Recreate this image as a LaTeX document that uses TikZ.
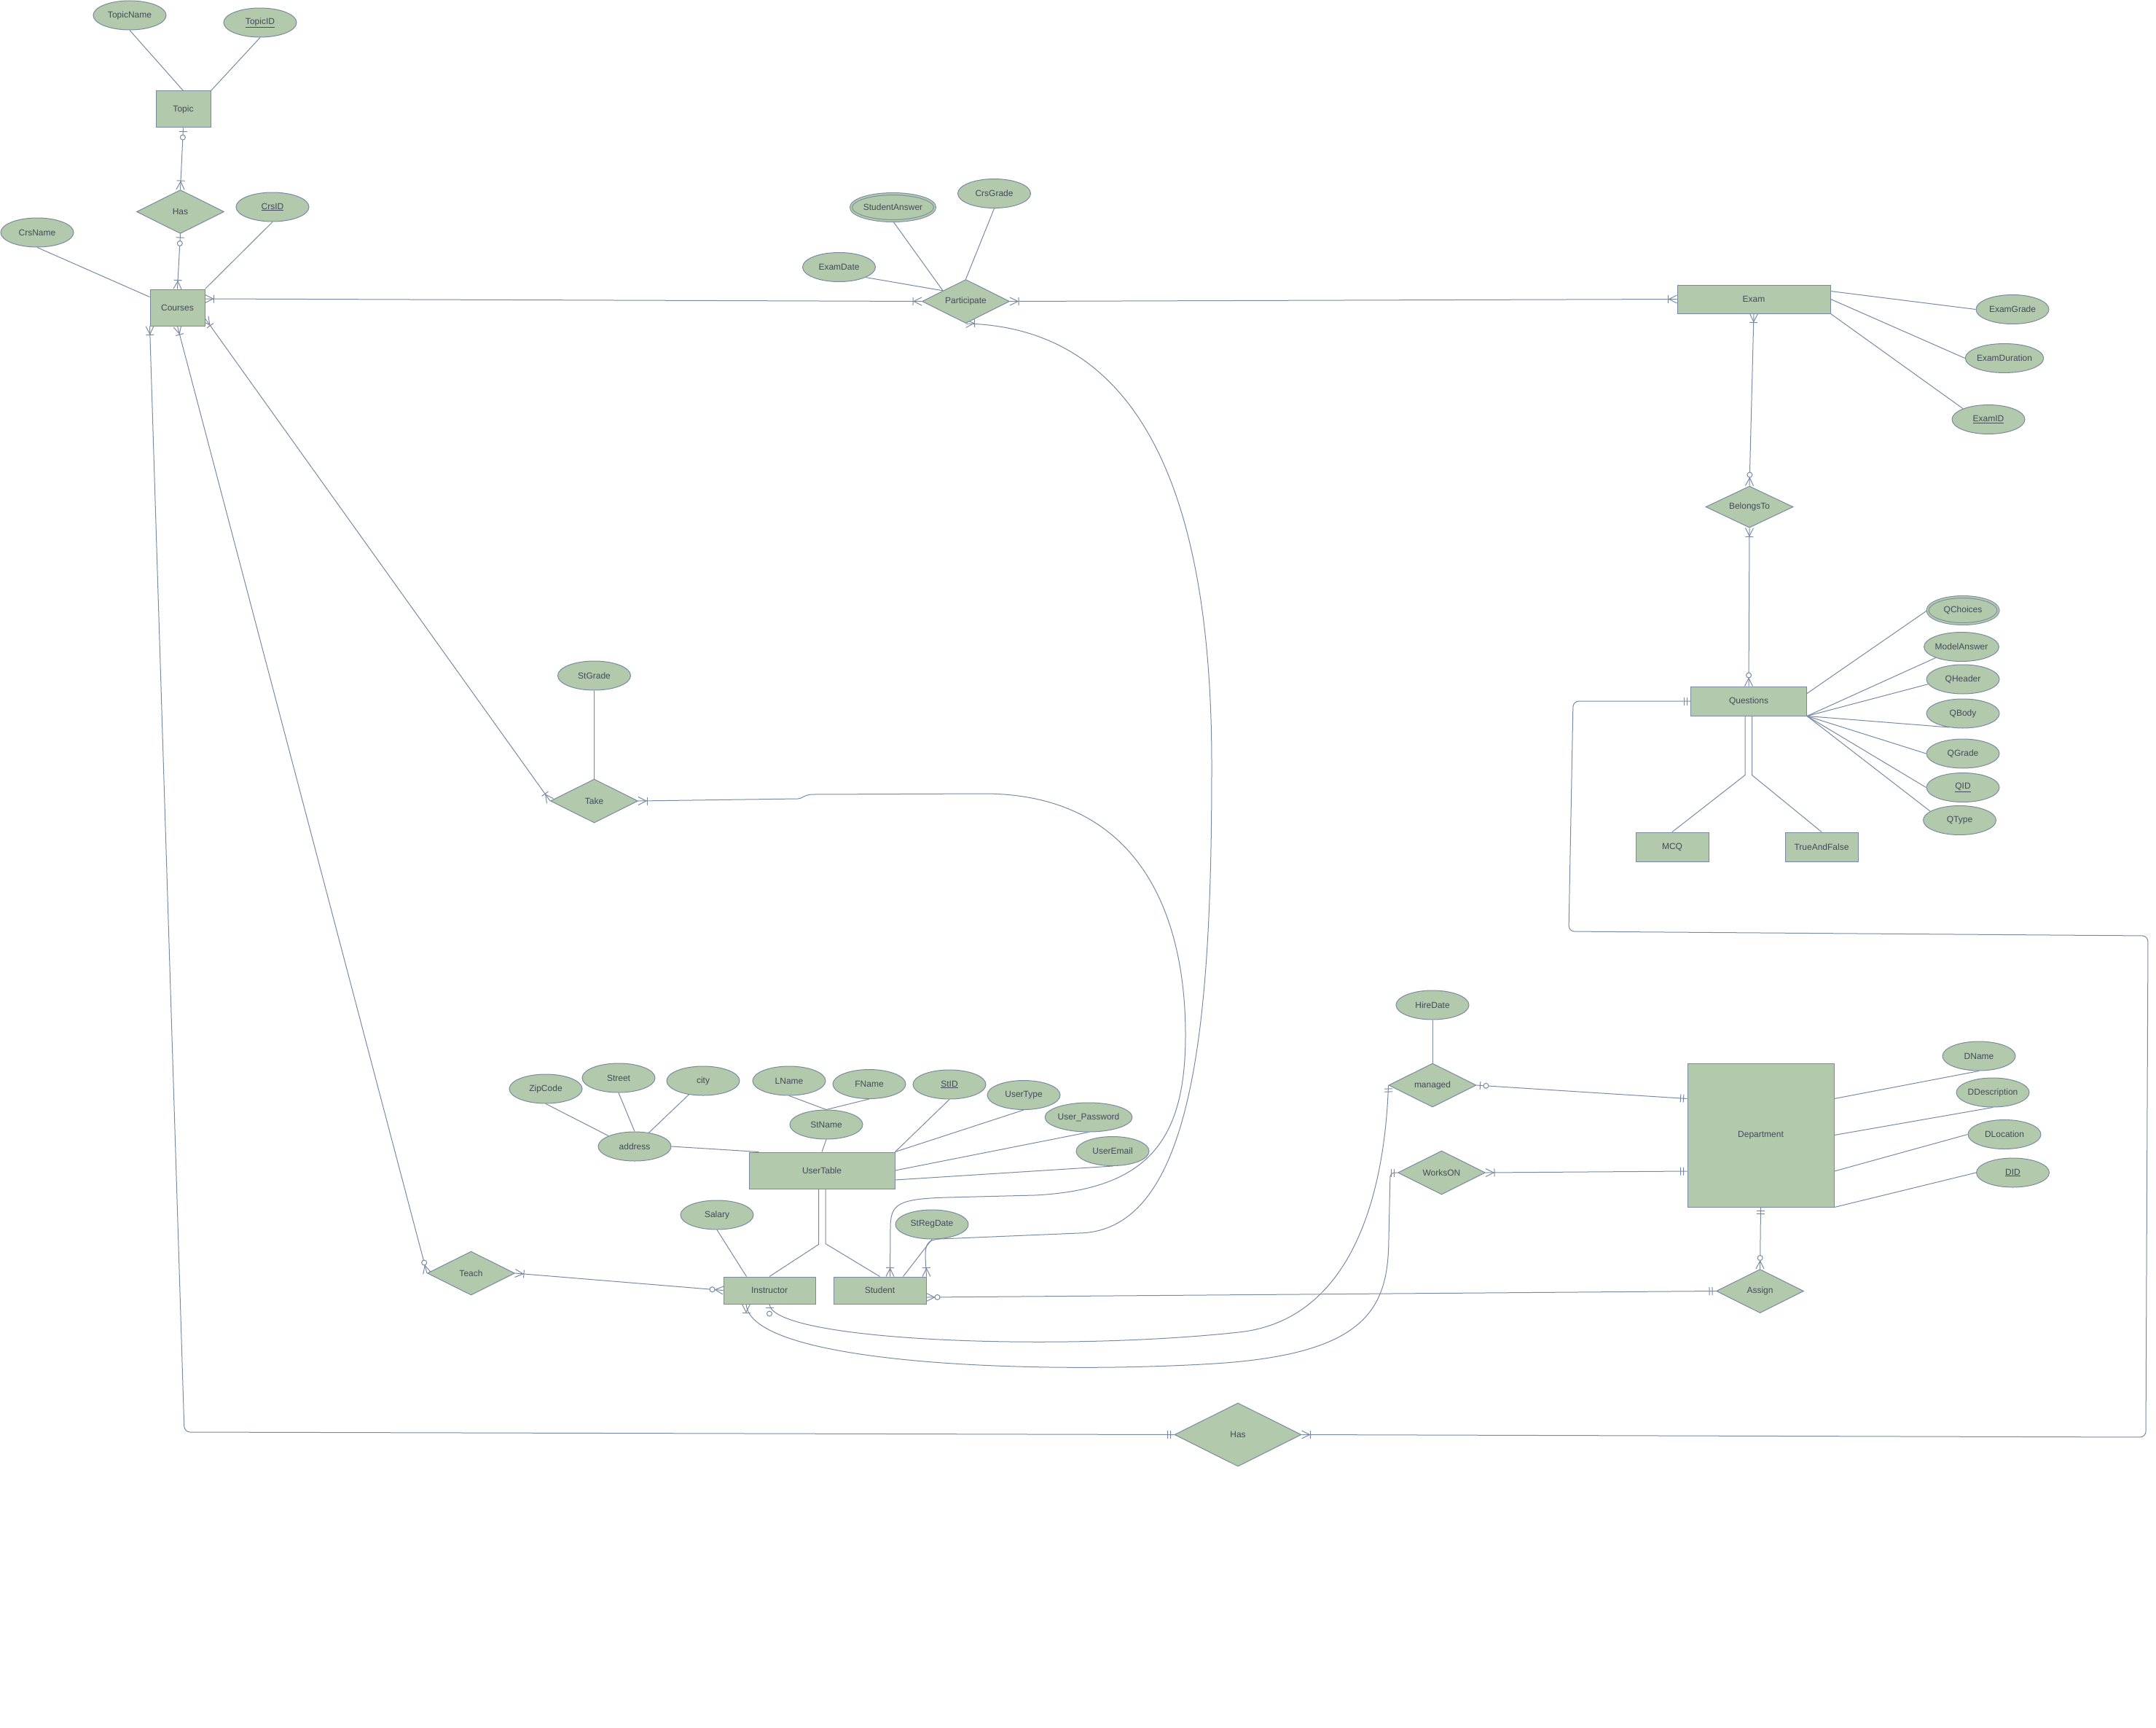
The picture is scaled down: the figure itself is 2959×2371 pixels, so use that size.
\documentclass[tikz,border=0pt]{standalone}
\usepackage{fontspec}
\setmainfont{Liberation Sans}
\usetikzlibrary{shapes.geometric,calc}
\definecolor{erfill}{HTML}{B2C9AB}
\definecolor{erline}{HTML}{788AA3}
\definecolor{ertext}{HTML}{46495D}
\pgfdeclarelayer{bg}
\pgfdeclarelayer{edges}
\pgfsetlayers{bg,edges,main}

% crow's-foot notation marks: #1 = end point on the shape, #2 = a point along the line
\newcommand\erbar[3]{\draw ($(#1)!#3!(#2)!5.5pt!90:(#2)$) -- ($(#1)!#3!(#2)!5.5pt!-90:(#2)$);}
\newcommand\ercrow[2]{\draw ($(#1)!5.5pt!90:(#2)$) -- ($(#1)!11pt!(#2)$) -- ($(#1)!5.5pt!-90:(#2)$);}
\newcommand\ercirc[3]{\draw[fill=white] ($(#1)!#3!(#2)$) circle[radius=3.5pt];}
\newcommand\ermany[2]{\ercrow{#1}{#2}\erbar{#1}{#2}{12pt}}
\newcommand\erzmany[2]{\ercrow{#1}{#2}\ercirc{#1}{#2}{15pt}}
\newcommand\erzone[2]{\erbar{#1}{#2}{5pt}\ercirc{#1}{#2}{13pt}}
\newcommand\erone[2]{\erbar{#1}{#2}{5pt}\erbar{#1}{#2}{9pt}}

\tikzset{
  base/.style={draw=erline, fill=erfill, line width=1pt, inner sep=0pt, text=ertext},
  ent/.style={base, rectangle},
  attr/.style={base, ellipse, minimum width=100pt, minimum height=40pt},
  mattr/.style={attr, double=erfill, double distance=2pt, minimum width=97pt, minimum height=37pt},
  rel/.style={base, diamond, aspect=2, minimum width=120pt, minimum height=60pt},
  link/.style={draw=erline, line width=1pt},
}

\begin{document}
\begin{tikzpicture}[x=1pt, y=-1pt, font=\fontsize{12}{14}\selectfont]
\begin{pgfonlayer}{bg}
  \fill[white] (0,0) rectangle (2959,2371);
\end{pgfonlayer}
\useasboundingbox (0,0) rectangle (2959,2371);

% ---------- entities ----------
\node[ent, minimum width=75pt, minimum height=50pt] (Topic) at (251.5,150) {Topic};
\node[ent, minimum width=75pt, minimum height=50pt] (Courses) at (243.5,422) {Courses};
\node[ent, minimum width=210pt, minimum height=39pt] (Exam) at (2407,410.5) {Exam};
\node[ent, minimum width=159pt, minimum height=40pt] (Questions) at (2400,962) {Questions};
\node[ent, minimum width=100pt, minimum height=40pt] (MCQ) at (2295,1162) {MCQ};
\node[ent, minimum width=100pt, minimum height=40pt] (TF) at (2500,1162) {TrueAndFalse};
\node[ent, minimum width=200pt, minimum height=50pt] (UT) at (1128,1606) {UserTable};
\node[ent, minimum width=126pt, minimum height=37pt] (Instructor) at (1056,1770.5) {Instructor};
\node[ent, minimum width=127pt, minimum height=37pt] (Student) at (1207.5,1770.5) {Student};
\node[ent, minimum width=201pt, minimum height=197pt] (Dept) at (2416.5,1557.5) {Department};

% ---------- relationships ----------
\node[rel] (Has) at (247.5,290.5) {Has};
\node[rel] (Part) at (1325.5,413.5) {Participate};
\node[rel, minimum height=57pt] (BelongsTo) at (2401,695.5) {BelongsTo};
\node[rel] (Take) at (815.5,1099) {Take};
\node[rel] (Teach) at (646.5,1747) {Teach};
\node[rel] (managed) at (1966,1489) {managed};
\node[rel] (WorksON) at (1978.5,1609) {WorksON};
\node[rel] (Assign) at (2415.5,1771.5) {Assign};
\node[rel, minimum width=174pt, minimum height=87pt] (HasB) at (1699,1968.5) {Has};

% ---------- attributes ----------
\node[attr] (TopicName) at (178,21) {TopicName};
\node[attr] (TopicID) at (357,31) {\underline{TopicID}};
\node[attr] (CrsID) at (374,284) {\underline{CrsID}};
\node[attr] (CrsName) at (51,319) {CrsName};
\node[mattr] (StudentAnswer) at (1225.5,284.5) {StudentAnswer};
\node[attr] (CrsGrade) at (1364.5,265.5) {CrsGrade};
\node[attr] (ExamDate) at (1151.5,366.5) {ExamDate};
\node[attr] (ExamGrade) at (2762,424.5) {ExamGrade};
\node[attr] (ExamDuration) at (2751,491.5) {ExamDuration};
\node[attr] (ExamID) at (2729,575.5) {\underline{ExamID}};
\node[mattr] (QChoices) at (2694,837.5) {QChoices};
\node[attr] (ModelAnswer) at (2692,887.5) {ModelAnswer};
\node[attr] (QHeader) at (2694,932) {QHeader};
\node[attr] (QBody) at (2694,979) {QBody};
\node[attr] (QGrade) at (2694,1034) {QGrade};
\node[attr] (QID) at (2694,1080.5) {\underline{QID}};
\node[attr] (QType) at (2689.5,1125.5) {QType};
\node[attr] (StGrade) at (815.5,927) {StGrade};
\node[attr] (ZipCode) at (749,1494) {ZipCode};
\node[attr] (Street) at (849,1479) {Street};
\node[attr] (city) at (965,1483) {city};
\node[attr] (address) at (871,1573) {address};
\node[attr] (LName) at (1083,1483) {LName};
\node[attr] (FName) at (1193,1487.5) {FName};
\node[attr] (StName) at (1134,1543) {StName};
\node[attr] (StID) at (1303,1488) {\underline{StID}};
\node[attr] (UserType) at (1405,1502.5) {UserType};
\node[attr] (UserPassword) at (1494,1533) {User\_Password};
\node[attr] (UserEmail) at (1527,1579.5) {UserEmail};
\node[attr] (StRegDate) at (1279,1680) {StRegDate};
\node[attr] (Salary) at (984,1667) {Salary};
\node[attr] (HireDate) at (1966,1379) {HireDate};
\node[attr] (DName) at (2716,1449) {DName};
\node[attr] (DDescription) at (2735,1499) {DDescription};
\node[attr] (DLocation) at (2751,1556.5) {DLocation};
\node[attr] (DID) at (2762.5,1609) {\underline{DID}};

% ---------- helper points on shape borders ----------
\coordinate (c3) at ($(Courses.east)+(0,-12)$);
\coordinate (c5) at ($(Courses.east)+(0,15)$);
\coordinate (c14) at ($(Student.east)+(0,9.5)$);
\coordinate (c15) at ($(Dept.north west)+(0,49)$);
\coordinate (c16) at ($(Dept.west)+(0,49.5)$);
\coordinate (s12) at ($(Student.north west)+(78,0)$);
\coordinate (c19) at ($(Instructor.south)+(-32,0)$);

\begin{pgfonlayer}{edges}
\begin{scope}[link]
% attribute links
\draw (TopicName.south) -- (Topic.north);
\draw (TopicID.south) -- (Topic.north east);
\draw (CrsName.south) -- ($(Courses.north west)+(0,11)$);
\draw (CrsID.south) -- (Courses.north east);
\draw (ExamDate.-21) -- (Part.155);
\draw (StudentAnswer.south) -- (Part.155);
\draw (CrsGrade.south) -- (Part.north);
\draw ($(Exam.north east)+(0,9)$) -- (ExamGrade.west);
\draw (Exam.east) -- (ExamDuration.west);
\draw (Exam.south east) -- (ExamID.157);
\draw ($(Questions.north east)+(0,10)$) -- (QChoices.west);
\draw (Questions.south east) -- (ModelAnswer.203);
\draw (Questions.south east) -- (QHeader.188);
\draw (Questions.south east) -- (QBody.225);
\draw (Questions.south east) -- (QGrade.west);
\draw (Questions.south east) -- (QID.west);
\draw (Questions.south east) -- (QType.163);
\draw (StGrade.south) -- (Take.north);
\draw (ZipCode.south) -- (address.158);
\draw (Street.south) -- (address.north);
\draw (city.224) -- (address.44);
\draw (address.east) -- ($(UT.north west)+(14,0)$);
\draw (LName.south) -- (StName.north);
\draw (FName.south) -- (StName.north);
\draw (StName.south) -- (UT.north);
\draw (StID.south) -- (UT.north east);
\draw (UserType.south) -- (UT.north east);
\draw (UserPassword.south) -- (UT.east);
\draw (UserEmail.south) -- ($(UT.east)+(0,13)$);
\draw (Salary.south) -- ($(Instructor.north west)+(32,0)$);
\draw (StRegDate.south) -- ($(Student.north east)+(-32,0)$);
\draw (HireDate.south) -- (managed.north);
\draw (DName.south) -- (c15 -| Dept.east);
\draw (DDescription.south) -- (Dept.east);
\draw (DLocation.west) -- (c16 -| Dept.east);
\draw (DID.west) -- (Dept.south east);

% specialisations
\draw ($(Questions.south)+(-5,0)$) -- ++(0,81) -- (MCQ.north);
\draw ($(Questions.south)+(4.5,0)$) -- ++(0,81) -- (TF.north);
\draw ($(UT.south)+(-4.5,0)$) -- ++(0,76) -- (Instructor.north);
\draw ($(UT.south)+(5,0)$) -- ++(0,75) -- (Student.north);

% relationship links
\draw (Topic.south) -- (Has.north);
\erzone{Topic.south}{Has.north} \ermany{Has.north}{Topic.south}
\draw (Has.south) -- (Courses.north);
\erzone{Has.south}{Courses.north} \ermany{Courses.north}{Has.south}
\draw (c3) -- (Part.west);
\ermany{c3}{Part.west} \ermany{Part.west}{c3}
\draw (Part.east) -- (Exam.west);
\ermany{Part.east}{Exam.west} \ermany{Exam.west}{Part.east}
\draw (c5) -- (Take.west);
\ermany{c5}{Take.west} \ermany{Take.west}{c5}
\draw (Courses.south) -- (Teach.west);
\ermany{Courses.south}{Teach.west} \erzmany{Teach.west}{Courses.south}
\draw[rounded corners=8pt] (Courses.south west) -- (253,1965) -- (HasB.west);
\ermany{Courses.south west}{253,1965} \erone{HasB.west}{253,1965}
\draw[rounded corners=8pt] (Questions.west) -- (2159,962) -- (2153,1278) -- (2948,1284) -- (2945,1972) -- (HasB.east);
\erone{Questions.west}{2159,962} \ermany{HasB.east}{2945,1972}
\draw (Exam.south) -- (BelongsTo.north);
\ermany{Exam.south}{BelongsTo.north} \erzmany{BelongsTo.north}{Exam.south}
\draw (BelongsTo.south) -- (Questions.north);
\ermany{BelongsTo.south}{Questions.north} \erzmany{Questions.north}{BelongsTo.south}
\draw (Teach.east) -- (Instructor.west);
\ermany{Teach.east}{Instructor.west} \erzmany{Instructor.west}{Teach.east}
\draw (c14) -- (Assign.west);
\erzmany{c14}{Assign.west} \erone{Assign.west}{c14}
\draw (managed.east) -- (c15);
\erzone{managed.east}{c15} \erone{c15}{managed.east}
\draw (WorksON.east) -- (c16);
\ermany{WorksON.east}{c16} \erone{c16}{WorksON.east}
\draw (Dept.south) -- (Assign.north);
\erone{Dept.south}{Assign.north} \erzmany{Assign.north}{Dept.south}

% Take -- Student
\draw (Take.east) -- (1095,1096) .. controls (1101,1096) and (1104,1090) .. (1116,1090)
  -- (1350,1089) .. controls (1560,1089) and (1627,1250) .. (1627,1420)
  .. controls (1627,1560) and (1580,1632) .. (1420,1640) -- (1300,1643)
  .. controls (1232,1645) and (1222,1652) .. (1222,1685) -- (s12);
\ermany{Take.east}{1095,1099} \ermany{s12}{1222,1700}

% Participate -- Student
\draw (Part.south) .. controls (1600,450) and (1663,750) .. (1663,1050)
  .. controls (1663,1400) and (1640,1690) .. (1480,1692) -- (1290,1700)
  .. controls (1272,1701) and (1270,1708) .. (1270,1725) -- (Student.north east);
\ermany{Part.south}{1345,443} \ermany{Student.north east}{1271,1700}

% managed -- Instructor
\draw (managed.west) .. controls (1900,1650) and (1850,1812) .. (1700,1828)
  .. controls (1450,1855) and (1060,1840) .. (Instructor.south);
\erone{managed.west}{1906,1520} \erzone{Instructor.south}{1056,1820}

% WorksON -- Instructor
\draw[rounded corners=6pt] (WorksON.west) -- (1908,1609) -- (1906,1700)
  .. controls (1904,1800) and (1870,1860) .. (1650,1872)
  .. controls (1400,1885) and (1030,1870) .. (c19);
\erone{WorksON.west}{1890,1609} \ermany{c19}{1024,1820}
\end{scope}
\end{pgfonlayer}
\end{tikzpicture}
\end{document}
